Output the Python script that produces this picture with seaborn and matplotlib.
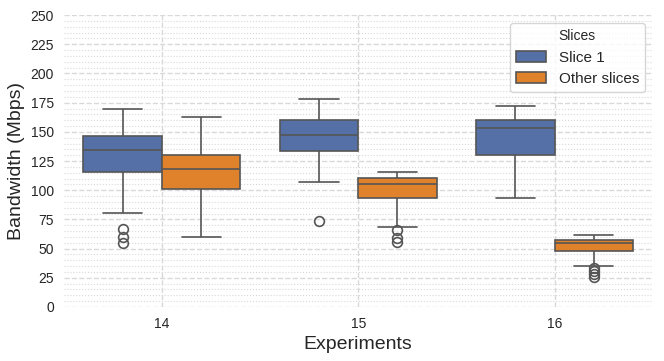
import pandas as pd
import matplotlib.pyplot as plt
import seaborn as sns
from matplotlib.ticker import MultipleLocator

experiments = ["14", "15", "16"]
slices = ["Slice 1", "Other slices"]

exp14_slice1 = [54.5, 59.7, 67.0, 80.2, 115.8, 121, 126, 130, 134.2, 137, 140, 143, 146.4, 151, 157, 163, 169.5]
exp14_other = [59.7, 78, 92, 101.0, 107, 113, 118.2, 122, 126, 129.9, 138, 150, 162.7]
exp15_slice1 = [73.6, 107, 124, 133.6, 139, 143, 147, 151, 156, 160.4, 165, 171, 177.8]
exp15_other = [56, 59.4, 66, 68.8, 93.3, 97, 100, 103, 105, 106.5, 108, 109.5, 110.7, 112, 113.5, 114.5, 115.3]
exp16_slice1 = [93.3, 110, 122, 130.1, 140, 148, 153.3, 155.5, 157.5, 159.8, 164, 168, 172.4]
exp16_other = [26, 28, 31, 33.5, 34.6, 48.2, 50, 51.5, 52.5, 53.8, 54.8, 55.3, 55.8, 56.3, 56.9,
               57.4, 58.2, 59, 59.8, 60.7, 61.6]

groups = {
    ("14", "Slice 1"): exp14_slice1,
    ("14", "Other slices"): exp14_other,
    ("15", "Slice 1"): exp15_slice1,
    ("15", "Other slices"): exp15_other,
    ("16", "Slice 1"): exp16_slice1,
    ("16", "Other slices"): exp16_other,
}

rows = []
for (exp, sl), vals in groups.items():
    for v in vals:
        rows.append({"Experiments": exp, "Slices": sl, "Bandwidth": v})
df = pd.DataFrame(rows)

sns.set_style("whitegrid", {"grid.linestyle": "--", "grid.color": "#d9d9d9"})
plt.rcParams["font.family"] = ["Liberation Sans", "DejaVu Sans"]

fig, ax = plt.subplots(figsize=(6.64, 3.61), dpi=100)
fig.subplots_adjust(left=0.096, right=0.983, top=0.958, bottom=0.150)

sns.boxplot(
    data=df, x="Experiments", y="Bandwidth", hue="Slices",
    order=experiments, hue_order=slices,
    palette=["#5470a6", "#e0812c"], saturation=1, width=0.8,
    linecolor="#555555", linewidth=1.2,
    flierprops={"marker": "o", "markersize": 7, "markerfacecolor": "none",
                "markeredgecolor": "#555555", "markeredgewidth": 1.2},
    ax=ax,
)

ax.set_ylim(0, 250)
ax.yaxis.set_major_locator(MultipleLocator(25))
ax.yaxis.set_minor_locator(MultipleLocator(5))
ax.grid(which="major", linestyle="--", color="#d9d9d9", linewidth=1)
ax.grid(which="minor", axis="y", linestyle=":", color="#d9d9d9", linewidth=0.8)
ax.set_axisbelow(True)
for s in ax.spines.values():
    s.set_visible(False)

ax.tick_params(axis="both", labelsize=10, colors="#262626")
ax.set_xlabel("Experiments", fontsize=14, color="#262626")
ax.set_ylabel("Bandwidth (Mbps)", fontsize=14, color="#262626")

leg = ax.legend(title="Slices", loc="upper right", fontsize=11, title_fontsize=10,
                frameon=True)
leg.get_frame().set_edgecolor("#cccccc")

fig.savefig("out.png", dpi=100)
